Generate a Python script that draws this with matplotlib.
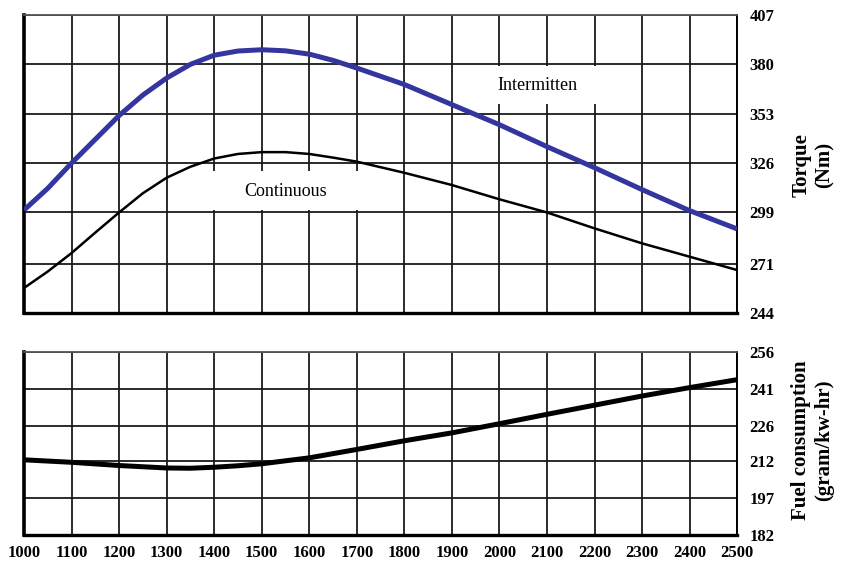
import numpy as np
import matplotlib
matplotlib.use("Agg")
import matplotlib.pyplot as plt
from matplotlib.patches import Rectangle

# engine speed (rpm) for the torque curves
rpm_torque = [1000, 1050, 1100, 1150, 1200, 1250, 1300, 1350, 1400, 1450,
              1500, 1550, 1600, 1650, 1700, 1800, 1900, 2000, 2100, 2200,
              2300, 2400, 2500]

# torque curves (Nm)
torque_intermittent = [300.3, 312.2, 326.0, 339.0, 352.0, 363.2, 372.5, 380.0,
                       385.0, 387.3, 388.0, 387.4, 385.6, 382.2, 378.0, 369.0,
                       358.0, 347.0, 335.0, 323.5, 311.5, 300.0, 290.0]
torque_continuous = [257.7, 266.7, 276.8, 288.0, 299.0, 309.5, 318.0, 324.0,
                     328.5, 331.0, 332.0, 332.0, 331.0, 329.0, 326.8, 320.7,
                     314.0, 306.2, 299.0, 290.3, 282.1, 274.8, 267.5]

# specific fuel consumption (gram/kw-hr)
rpm_fuel = [1000, 1100, 1200, 1300, 1350, 1400, 1450, 1500, 1600, 1700,
            1800, 1900, 2000, 2100, 2200, 2300, 2400, 2500]
fuel = [212.4, 211.4, 210.1, 209.1, 209.0, 209.4, 210.0, 210.8, 213.2, 216.6,
        220.1, 223.3, 227.0, 230.8, 234.5, 238.2, 241.6, 244.8]

torque_ticks = [244, 271, 299, 326, 353, 380, 407]
fuel_ticks = [182, 197, 212, 226, 241, 256]
rpm_ticks = list(range(1000, 2501, 100))

plt.rcParams["font.family"] = "Liberation Serif"

fig = plt.figure(figsize=(8.51, 5.64), dpi=100)
ax1 = fig.add_axes([0.0282, 0.445, 0.838, 0.5284])
ax2 = fig.add_axes([0.0282, 0.0514, 0.838, 0.3245])


def style(ax, yticks):
    ax.set_xlim(rpm_ticks[0], rpm_ticks[-1])
    ax.set_ylim(yticks[0], yticks[-1])
    ax.set_xticks(rpm_ticks)
    ax.set_yticks(yticks)
    ax.grid(True, color="#1a1a1a", linewidth=1.3)
    ax.set_axisbelow(True)
    ax.yaxis.tick_right()
    ax.tick_params(axis="y", length=0, pad=9, labelsize=12)
    ax.tick_params(axis="x", length=0, pad=7, labelsize=12)
    for lab in ax.get_yticklabels() + ax.get_xticklabels():
        lab.set_fontweight("bold")
    ax.spines["left"].set_linewidth(2.6)
    ax.spines["bottom"].set_linewidth(2.4)
    ax.spines["top"].set_linewidth(1.3)
    ax.spines["top"].set_color("#555555")
    ax.spines["right"].set_linewidth(1.4)


style(ax1, torque_ticks)
ax1.set_xticklabels([])
style(ax2, fuel_ticks)

# white boxes behind the curve names
ax1.add_patch(Rectangle((1360, 300.6), 380, 21.2, facecolor="white",
                        edgecolor="none", zorder=1.5))
ax1.add_patch(Rectangle((1930, 358.3), 310, 20.8, facecolor="white",
                        edgecolor="none", zorder=1.5))

ax1.plot(rpm_torque, torque_intermittent, color="#35359f", linewidth=3.6,
         solid_capstyle="butt", solid_joinstyle="round", zorder=3)
ax1.plot(rpm_torque, torque_continuous, color="black", linewidth=1.8,
         solid_joinstyle="round", zorder=3)
ax1.text(1550, 310.5, "Continuous", fontsize=13, ha="center", va="center",
         zorder=4)
ax1.text(2080, 368.5, "Intermitten", fontsize=13, ha="center", va="center",
         zorder=4)

ax2.plot(rpm_fuel, fuel, color="black", linewidth=3.6, solid_capstyle="butt",
         solid_joinstyle="round", zorder=3)

fig.text(0.955, 0.708, "Torque\n(Nm)", rotation=90, ha="center", va="center",
         fontsize=15, fontweight="bold", multialignment="center")
fig.text(0.955, 0.22, "Fuel consumption\n(gram/kw-hr)", rotation=90,
         ha="center", va="center", fontsize=15, fontweight="bold",
         multialignment="center")

fig.savefig("out.png", dpi=100)
